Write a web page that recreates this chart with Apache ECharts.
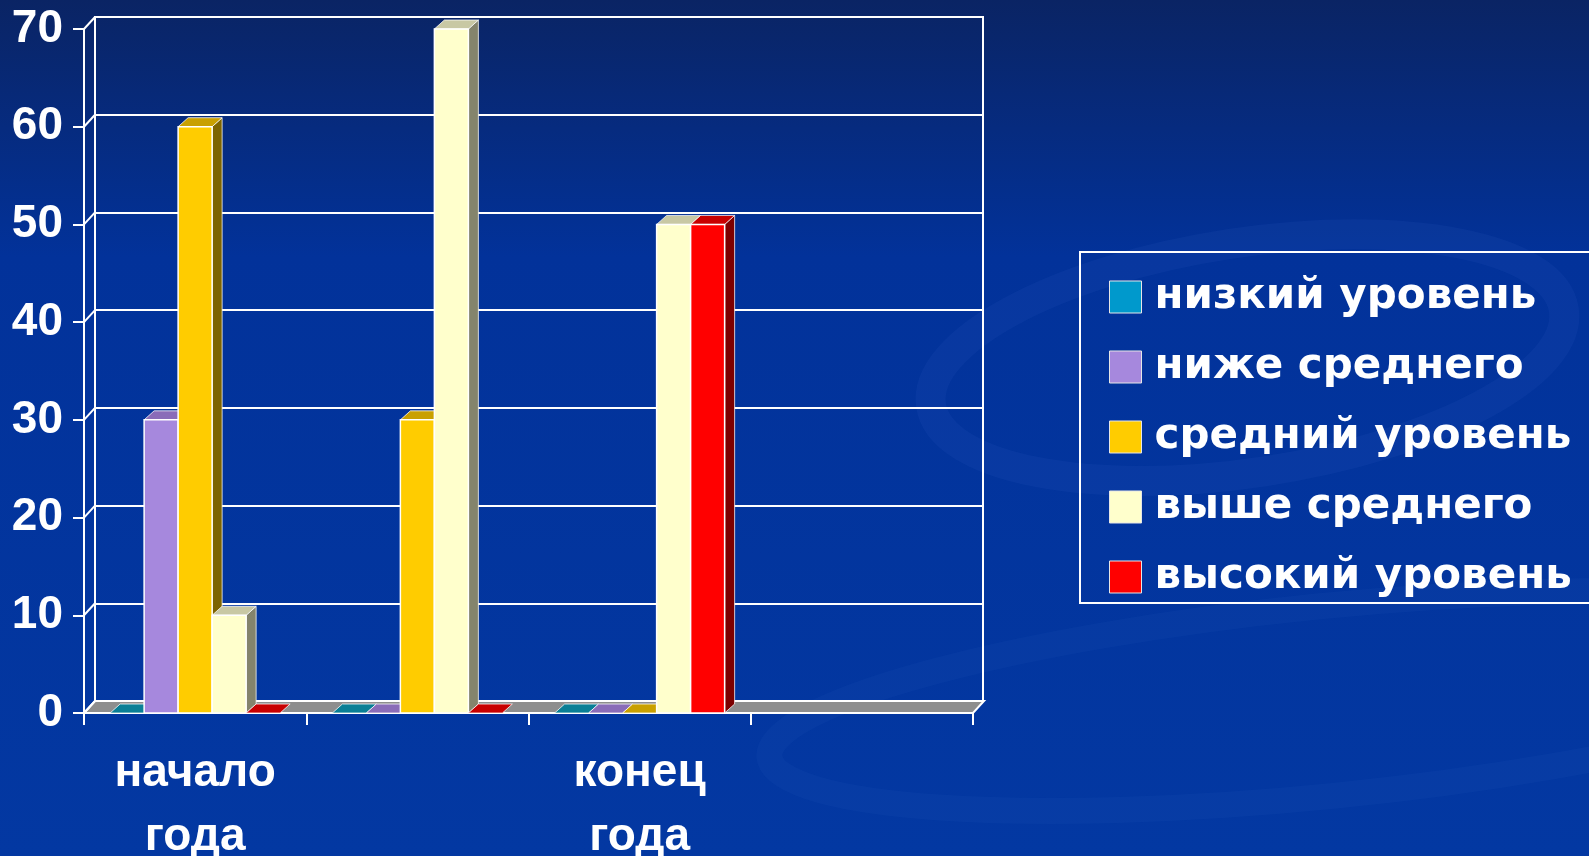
<!DOCTYPE html>
<html>
<head>
<meta charset="utf-8">
<script src="https://cdn.jsdelivr.net/npm/echarts@6/dist/echarts.min.js"></script>
<style>
  html, body { margin: 0; padding: 0; overflow: hidden; }
  #chart { width: 1589px; height: 856px; }
</style>
</head>
<body>
<div id="chart"></div>
<script>
var categories = ["начало\nгода", "", "конец\nгода", ""];
var seriesNames = ["низкий уровень", "ниже среднего", "средний уровень", "выше среднего", "высокий уровень"];
var lowLevel = [0, 0, 0, null];
var belowAverage = [30, 0, 0, null];
var averageLevel = [60, 30, 0, null];
var aboveAverage = [10, 70, 50, null];
var highLevel = [0, 0, 50, null];
var yMin = 0;
var yMax = 70;
var yStep = 10;

var seriesValues = [lowLevel, belowAverage, averageLevel, aboveAverage, highLevel];
var frontColors = ["#0099cc", "#a688dd", "#ffcc00", "#ffffcc", "#ff0000"];
var topColors = ["#0a7f96", "#8a6cb8", "#c9a000", "#c8c8a4", "#c80000"];
var sideColors = ["#05546a", "#56457a", "#7d6400", "#84846c", "#7d0000"];

var FONT = "'Liberation Sans', Arial, sans-serif";
var BAR_FRAC = 0.153;
var DX = 10, DY = -9;      // bar depth
var WX = 11, WY = -12;     // wall depth

function makeBarRenderer(idx) {
  return function (params, api) {
    var v = api.value(1);
    if (v == null || isNaN(v)) return;
    var cat = api.value(0);
    var base = api.coord([cat, 0]);
    var top = api.coord([cat, v]);
    var bw = api.size([1, 0])[0] * BAR_FRAC;
    var x0 = base[0] - 2.5 * bw + idx * bw;
    var x1 = x0 + bw;
    var y0 = base[1], y1 = top[1];
    var edge = { stroke: "rgba(255,255,255,0.75)", lineWidth: 1 };
    var children = [];
    if (v > 0) {
      children.push({
        type: "polygon",
        shape: { points: [[x1, y1], [x1 + DX, y1 + DY], [x1 + DX, y0 + DY], [x1, y0]] },
        style: Object.assign({ fill: sideColors[idx] }, edge)
      });
    }
    children.push({
      type: "polygon",
      shape: { points: [[x0, y1], [x1, y1], [x1 + DX, y1 + DY], [x0 + DX, y1 + DY]] },
      style: Object.assign({ fill: topColors[idx] }, edge)
    });
    if (v > 0) {
      children.push({
        type: "rect",
        shape: { x: x0, y: y1, width: bw, height: y0 - y1 },
        style: { fill: frontColors[idx], stroke: "#ffffff", lineWidth: 1.5 }
      });
    }
    return { type: "group", children: children };
  };
}

var tickValues = [];
for (var t = yMin; t <= yMax; t += yStep) tickValues.push(t);

var series = [
  {
    // floor of the 3d box
    type: "custom",
    xAxisIndex: 0,
    yAxisIndex: 0,
    silent: true,
    data: [[0, 0]],
    renderItem: function (params, api) {
      var cs = params.coordSys;
      var y0 = api.coord([0, yMin])[1];
      var xl = cs.x, xr = cs.x + cs.width;
      return {
        type: "polygon",
        shape: { points: [[xl, y0], [xr, y0], [xr + WX, y0 + WY], [xl + WX, y0 + WY]] },
        style: { fill: "#8e8e8e", stroke: "#ffffff", lineWidth: 2 }
      };
    }
  },
  {
    // diagonal connectors on the left wall
    type: "custom",
    xAxisIndex: 0,
    yAxisIndex: 0,
    silent: true,
    data: tickValues.map(function (v) { return [0, v]; }),
    renderItem: function (params, api) {
      var cs = params.coordSys;
      var y = api.coord([0, api.value(1)])[1];
      return {
        type: "line",
        shape: { x1: cs.x, y1: y, x2: cs.x + WX, y2: y + WY },
        style: { stroke: "#ffffff", lineWidth: 2 }
      };
    }
  }
];

seriesValues.forEach(function (vals, idx) {
  series.push({
    name: seriesNames[idx],
    type: "custom",
    xAxisIndex: 0,
    yAxisIndex: 0,
    itemStyle: { color: frontColors[idx] },
    data: vals.map(function (v, i) { return [i, v == null ? "-" : v]; }),
    renderItem: makeBarRenderer(idx)
  });
});

var chart = echarts.init(document.getElementById("chart"), null, { renderer: "canvas" });

chart.setOption({
  animation: false,
  backgroundColor: {
    type: "linear", x: 0, y: 0, x2: 0, y2: 1,
    colorStops: [
      { offset: 0, color: "#0a2464" },
      { offset: 0.3, color: "#02329a" },
      { offset: 1, color: "#0338a2" }
    ]
  },
  color: frontColors,
  graphic: [
    {
      type: "ellipse", z: -10, silent: true,
      shape: { cx: 1180, cy: 540, rx: 320, ry: 115 },
      rotation: 0.15,
      style: { fill: "none", stroke: "rgba(70,110,210,0.10)", lineWidth: 30 }
    },
    {
      type: "ellipse", z: -10, silent: true,
      shape: { cx: 1250, cy: 830, rx: 560, ry: 95 },
      rotation: 0.1,
      style: { fill: "none", stroke: "rgba(70,110,210,0.08)", lineWidth: 26 }
    },
    {
      type: "rect", z: 5, silent: true,
      shape: { x: 1080, y: 252, width: 540, height: 351 },
      style: { fill: "none", stroke: "#ffffff", lineWidth: 2 }
    }
  ],
  legend: {
    data: seriesNames,
    orient: "vertical",
    left: 1109,
    top: 276,
    padding: 0,
    itemWidth: 32,
    itemHeight: 32,
    itemGap: 28,
    icon: "rect",
    itemStyle: { borderColor: "#e6e6e6", borderWidth: 1 },
    textStyle: {
      color: "#ffffff",
      fontFamily: "'DejaVu Sans', sans-serif",
      fontWeight: "bold",
      fontSize: 42,
      lineHeight: 42,
      padding: [0, 0, 0, 8]
    }
  },
  grid: [
    { left: 84, right: 616, top: 29, bottom: 143, containLabel: false, outerBoundsMode: "none" },
    { left: 95, right: 606, top: 17, bottom: 155, outerBoundsMode: "none", show: true, borderColor: "#ffffff", borderWidth: 2, backgroundColor: "transparent" }
  ],
  xAxis: [
    {
      type: "category",
      gridIndex: 0,
      data: categories,
      boundaryGap: true,
      axisLine: { show: true, lineStyle: { color: "#ffffff", width: 2 } },
      axisTick: { show: true, length: 12, lineStyle: { color: "#ffffff", width: 2 } },
      axisLabel: {
        color: "#ffffff",
        fontFamily: FONT,
        fontWeight: "bold",
        fontSize: 46,
        lineHeight: 64,
        margin: 28,
        interval: 0
      },
      splitLine: { show: false }
    },
    {
      type: "category",
      gridIndex: 1,
      data: categories,
      show: false
    }
  ],
  yAxis: [
    {
      type: "value",
      gridIndex: 0,
      min: yMin,
      max: yMax,
      interval: yStep,
      axisLine: { show: true, lineStyle: { color: "#ffffff", width: 2 } },
      axisTick: { show: true, length: 11, lineStyle: { color: "#ffffff", width: 2 } },
      axisLabel: {
        color: "#ffffff",
        fontFamily: FONT,
        fontWeight: "bold",
        fontSize: 46,
        margin: 21
      },
      splitLine: { show: false }
    },
    {
      type: "value",
      gridIndex: 1,
      min: yMin,
      max: yMax,
      interval: yStep,
      axisLine: { show: false },
      axisTick: { show: false },
      axisLabel: { show: false },
      splitLine: { show: true, lineStyle: { color: "#ffffff", width: 2 } }
    }
  ],
  series: series
});
</script>
</body>
</html>
